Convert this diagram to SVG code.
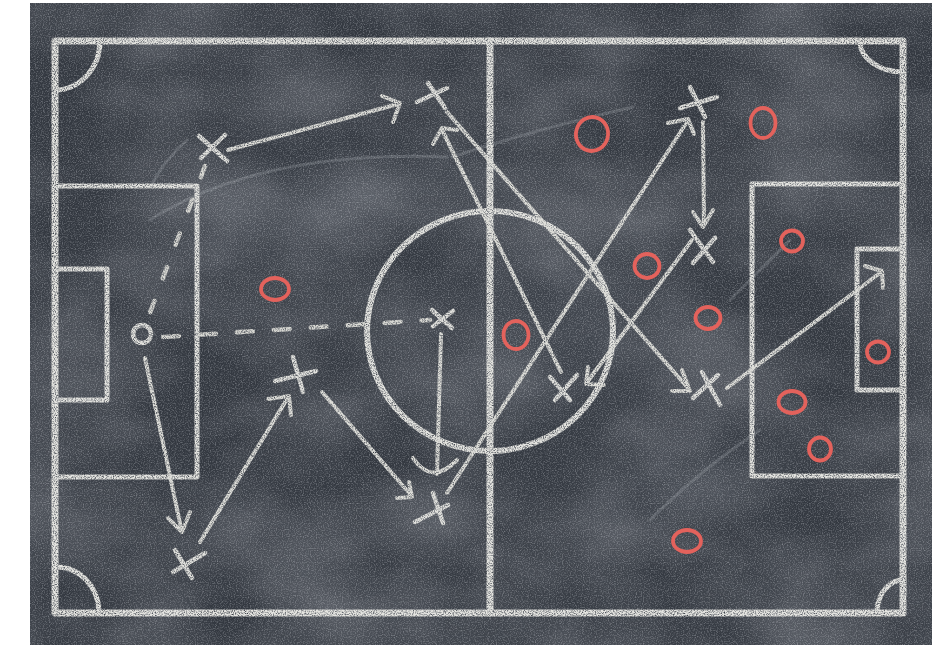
<svg xmlns="http://www.w3.org/2000/svg" width="949" height="647" viewBox="0 0 949 647">
<defs>
<style>
.pitch{fill:none;stroke:#e4e4e0;stroke-linecap:round;stroke-linejoin:round}
.outer{stroke-width:7}
.inner{stroke-width:5}
.chalk{fill:none;stroke:#deded9;stroke-width:4;stroke-linecap:round;stroke-linejoin:round}
.xm{fill:none;stroke:#e2e2de;stroke-width:4.5;stroke-linecap:round}
.opp{fill:none;stroke:#e3625c;stroke-width:3.8}
.dash{fill:none;stroke:#d8d8d3;stroke-width:4.5;stroke-linecap:round}
.ghost{fill:none;stroke:#c8ccd2;stroke-width:3;stroke-linecap:round;opacity:0.2}
</style>
<filter id="grain" filterUnits="userSpaceOnUse" x="30" y="3" width="902" height="642">
<feTurbulence type="fractalNoise" baseFrequency="0.85" numOctaves="2" seed="7"/>
<feColorMatrix type="matrix" values="0 0 0 0 0.8  0 0 0 0 0.82  0 0 0 0 0.86  0 0 0 0.8 -0.36"/>
</filter>
<filter id="blotch" filterUnits="userSpaceOnUse" x="30" y="3" width="902" height="642">
<feTurbulence type="fractalNoise" baseFrequency="0.008 0.012" numOctaves="3" seed="11"/>
<feColorMatrix type="matrix" values="0 0 0 0 0.1  0 0 0 0 0.11  0 0 0 0 0.13  0 0 0 1.8 -0.55"/>
</filter>
<filter id="chalkf" filterUnits="userSpaceOnUse" x="0" y="0" width="949" height="647">
<feTurbulence type="fractalNoise" baseFrequency="0.9" numOctaves="2" seed="3" result="n"/>
<feColorMatrix in="n" type="matrix" values="0 0 0 0 0  0 0 0 0 0  0 0 0 0 0  0 0 0 -2.4 2.0" result="a"/>
<feComposite in="SourceGraphic" in2="a" operator="in"/>
</filter>
<radialGradient id="smear1" cx="0.5" cy="0.5" r="0.5">
<stop offset="0" stop-color="#9aa0aa" stop-opacity="0.12"/>
<stop offset="1" stop-color="#9aa0aa" stop-opacity="0"/>
</radialGradient>
</defs>

<rect x="0" y="0" width="949" height="647" fill="#ffffff"/>
<g id="board">
<rect x="30" y="3" width="902" height="642" fill="#343941"/>
<rect x="30" y="3" width="902" height="642" filter="url(#blotch)"/>
<ellipse cx="330" cy="200" rx="230" ry="70" fill="url(#smear1)" transform="rotate(-12 330 200)"/>
<ellipse cx="560" cy="330" rx="200" ry="150" fill="url(#smear1)"/>
<ellipse cx="720" cy="470" rx="160" ry="60" fill="url(#smear1)" transform="rotate(-20 720 470)"/>
<rect x="30" y="3" width="902" height="642" filter="url(#grain)"/>
<path class="ghost" d="M452,157 Q540,128 633,107"/>
<path class="ghost" d="M150,220 Q260,150 447,157"/>
<path class="ghost" d="M187,140 Q165,160 153,182"/>
<path class="ghost" d="M730,300 Q760,270 790,240"/>
<path class="ghost" d="M650,520 Q700,470 760,430"/>
</g>

<g id="pitch" filter="url(#chalkf)">
<rect class="pitch outer" x="55" y="41" width="848" height="572"/>
<line class="pitch outer" x1="490" y1="41" x2="490" y2="613"/>
<ellipse class="pitch" stroke-width="6" cx="490" cy="331" rx="123" ry="120"/>
<path class="pitch inner" d="M55,186 H197 V477 H55"/>
<path class="pitch inner" d="M55,269 H107 V400 H55"/>
<path class="pitch inner" d="M903,184 H752 V476 H903"/>
<path class="pitch inner" d="M903,249 H857 V390 H903"/>
<path class="pitch inner" d="M55,90 A45,49 0 0 0 100,41"/>
<path class="pitch inner" d="M860,41 A43,31 0 0 0 903,72"/>
<path class="pitch inner" d="M57,567 A42,46 0 0 1 99,611"/>
<path class="pitch inner" d="M877,611 A26,33 0 0 1 903,580"/>
</g>

<g id="connectors" filter="url(#chalkf)">
<g id="pass-x1-x2"><path class="chalk" d="M228,150 L398,104"/><path class="chalk" d="M382,96 L400,103 L393,122"/></g>
<g id="dash-x1-gk"><path class="dash" d="M205,166 L148,318" stroke-dasharray="12 24"/></g>
<g id="dash-gk-x5"><path class="dash" d="M163,337 L430,320" stroke-dasharray="16 21"/></g>
<g id="pass-gk-x9"><path class="chalk" d="M145,358 L181,528"/><path class="chalk" d="M168,518 L182,532 L190,512"/></g>
<g id="pass-x9-x6"><path class="chalk" d="M200,542 L287,399"/><path class="chalk" d="M268,399 L289,396 L291,415"/></g>
<g id="pass-x6-x10"><path class="chalk" d="M322,392 L410,494"/><path class="chalk" d="M409,482 L412,497 L397,498"/></g>
<g id="pass-x5-down"><path class="chalk" d="M441,334 L437,474"/><path class="chalk" d="M413,458 Q432,486 457,460"/></g>
<g id="pass-x10-x3"><path class="chalk" d="M447,493 L687,122"/><path class="chalk" d="M668,123 L688,119 L694,134"/></g>
<g id="pass-x2-x8"><path class="chalk" d="M447,112 L688,388"/><path class="chalk" d="M682,370 L690,391 L672,391"/></g>
<g id="pass-x7-x2"><path class="chalk" d="M561,372 L442,130"/><path class="chalk" d="M433,144 L442,128 L457,130"/></g>
<g id="pass-x3-x4"><path class="chalk" d="M703,122 L704,225"/><path class="chalk" d="M693,212 L703,227 L713,210"/></g>
<g id="pass-x4-x7"><path class="chalk" d="M692,240 L588,381"/><path class="chalk" d="M588,367 L586,384 L604,385"/></g>
<g id="pass-x8-goal"><path class="chalk" d="M727,388 L880,273"/><path class="chalk" d="M865,266 L882,271 L883,288"/></g>
</g>

<g id="players" filter="url(#chalkf)">
<g id="gk"><circle cx="142" cy="334" r="9" fill="none" stroke="#e2e2de" stroke-width="4.5"/></g>
<g id="x1"><path class="xm" d="M199,136 L227,161 M225,135 L201,158"/></g>
<g id="x2"><path class="xm" d="M428,83 L445,108 M447,88 L417,102"/></g>
<g id="x3"><path class="xm" d="M690,87 L705,117 M717,97 L680,108"/></g>
<g id="x4"><path class="xm" d="M690,230 L713,262 M715,238 L693,263"/></g>
<g id="x5"><path class="xm" d="M432,310 L452,328 M453,311 L433,326"/></g>
<g id="x6"><path class="xm" d="M293,357 L303,392 M275,381 L316,371"/></g>
<g id="x7"><path class="xm" d="M550,377 L570,400 M577,375 L555,400"/></g>
<g id="x8"><path class="xm" d="M702,372 L720,405 M718,375 L693,398"/></g>
<g id="x9"><path class="xm" d="M175,550 L192,578 M205,553 L173,572"/></g>
<g id="x10"><path class="xm" d="M433,493 L443,523 M448,505 L415,522"/></g>
</g>

<g id="opponents">
<ellipse id="o1" class="opp" cx="592" cy="134" rx="16" ry="17" transform="rotate(15 592 134)"/>
<ellipse id="o2" class="opp" cx="763" cy="123" rx="12.5" ry="15"/>
<ellipse id="o3" class="opp" cx="275" cy="289" rx="14" ry="11"/>
<ellipse id="o4" class="opp" cx="516" cy="335" rx="12.5" ry="14"/>
<ellipse id="o5" class="opp" cx="647" cy="266" rx="12.5" ry="12"/>
<ellipse id="o6" class="opp" cx="792" cy="241" rx="11" ry="10.5"/>
<ellipse id="o7" class="opp" cx="708" cy="318" rx="12.5" ry="11"/>
<ellipse id="o8" class="opp" cx="878" cy="352" rx="11" ry="10.5"/>
<ellipse id="o9" class="opp" cx="792" cy="402" rx="13.5" ry="11"/>
<ellipse id="o10" class="opp" cx="820" cy="449" rx="11" ry="11.5"/>
<ellipse id="o11" class="opp" cx="687" cy="541" rx="14" ry="11"/>
</g>
</svg>
